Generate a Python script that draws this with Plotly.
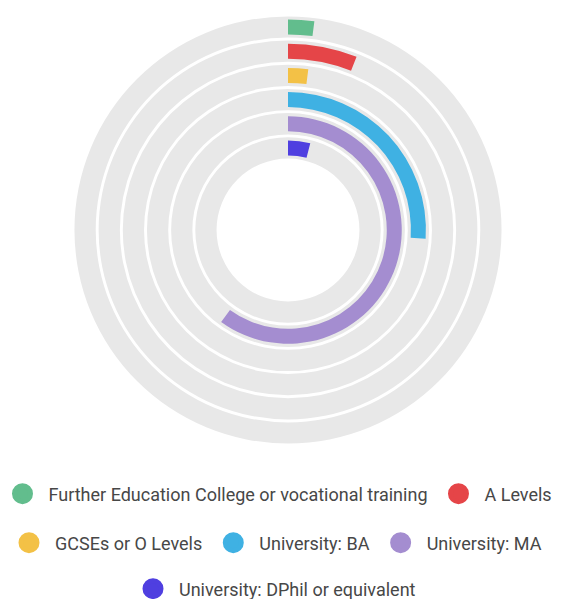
import plotly.graph_objects as go

categories = [
    "Further Education College or vocational training",
    "A Levels",
    "GCSEs or O Levels",
    "University: BA",
    "University: MA",
    "University: DPhil or equivalent",
]
values = [2, 6, 2, 26, 60, 4]  # percent
colors = ["#62bd8d", "#e54548", "#f3c146", "#3fb1e3", "#a48dd0", "#4f3fe0"]
track_color = "#e8e8e8"
legend_rows = [[0, 1], [2, 3, 4], [5]]

n = len(categories)
fig = go.Figure()

# grey tracks
for j in range(n):
    ring = n - 1 - j
    fig.add_trace(go.Barpolar(
        r=[0.88], base=[ring + 0.06], theta=[180], width=[360],
        marker=dict(color=track_color, line=dict(width=0)),
        showlegend=False, hoverinfo="skip",
    ))

# value bars
for j in range(n):
    ring = n - 1 - j
    deg = values[j] * 3.6
    fig.add_trace(go.Barpolar(
        r=[0.62], base=[ring + 0.19], theta=[deg / 2], width=[deg],
        marker=dict(color=colors[j], line=dict(width=0)),
        name=categories[j], showlegend=False,
        hovertemplate=categories[j] + ": %{customdata}%<extra></extra>",
        customdata=[values[j]],
    ))

# legend entries (circles), split over three legends (rows)
legend_ids = ["legend", "legend2", "legend3"]
for row_i, row in enumerate(legend_rows):
    for j in row:
        fig.add_trace(go.Scatterpolar(
            r=[None], theta=[None], mode="markers",
            marker=dict(color=colors[j], size=16, symbol="circle",
                        line=dict(color=colors[j], width=5)),
            name=categories[j], legend=legend_ids[row_i],
        ))

OFF = 8  # page body margin
R = 215
cx, cy = 288 - OFF, 230 - OFF
W, H = 565, 599
legend_common = dict(
    orientation="h", xanchor="center", yanchor="middle", itemwidth=42,
    font=dict(family="Roboto", size=18, color="#474747"),
    bgcolor="rgba(0,0,0,0)", itemclick=False, itemdoubleclick=False,
)
fig.update_layout(
    width=W, height=H,
    margin=dict(l=0, r=0, t=0, b=0, autoexpand=False),
    paper_bgcolor="white", plot_bgcolor="white",
    polar=dict(
        domain=dict(x=[(cx - R) / W, (cx + R) / W], y=[1 - (cy + R) / H, 1 - (cy - R) / H]),
        hole=70 / R,
        bgcolor="white",
        barmode="overlay",
        radialaxis=dict(range=[0, n], visible=False, showgrid=False),
        angularaxis=dict(rotation=90, direction="clockwise", visible=False, showgrid=False),
    ),
    legend=dict(x=(277 - OFF) / W, y=1 - (494 - OFF) / H, **legend_common),
    legend2=dict(x=(275 - OFF) / W, y=1 - (543 - OFF) / H, **legend_common),
    legend3=dict(x=(274 - OFF) / W, y=1 - (589 - OFF) / H, **legend_common),
    showlegend=True,
)

fig.write_html("out.html")
